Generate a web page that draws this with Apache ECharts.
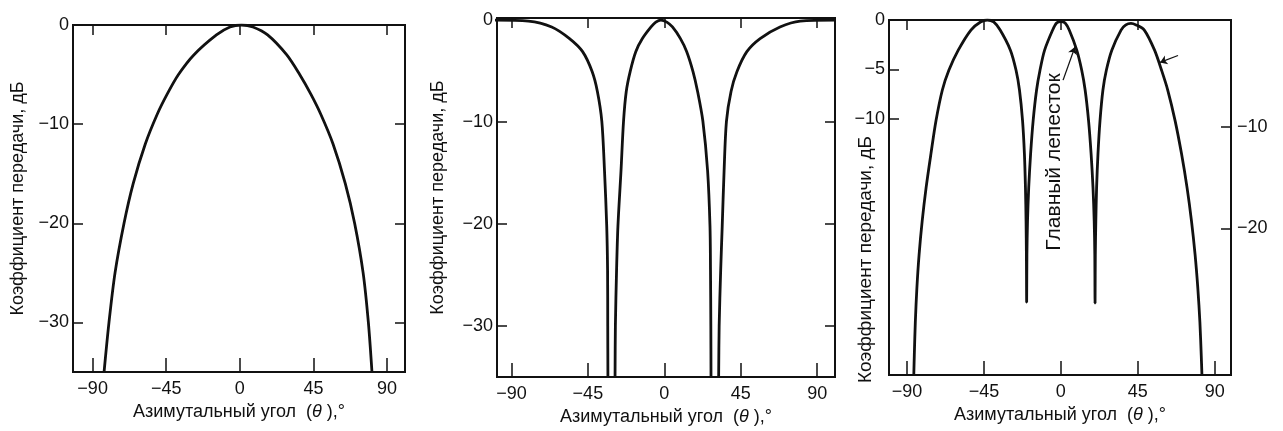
<!DOCTYPE html>
<html>
<head>
<meta charset="utf-8">
<script src="https://cdn.jsdelivr.net/npm/echarts@6/dist/echarts.min.js"></script>
<style>
  html, body { margin: 0; padding: 0; background: #fff; }
  #main { width: 1283px; height: 431px; }
</style>
</head>
<body>
<div id="main"></div>
<script>
// панель 1: одиночный лепесток
const p1Theta = [-83, -80, -76.3, -70.8, -65.2, -57.8, -50.5, -44.5, -37.5, -28, -14.3, -6, 1, 8, 17, 28.6, 36.6, 43.5, 49.5, 57, 64.5, 70.2, 75.4, 78.6, 80.8]
const p1Gain  = [-35, -30, -25, -20, -16, -12, -9, -7, -5, -3, -1, -0.2, 0, -0.2, -1, -3, -5, -7, -9, -12, -16, -20, -25, -30, -35]

// панель 2: три лепестка, нули уходят за нижний край
const p2LeftTheta = [-101, -80, -66.3, -55.8, -48.1, -42.5, -39.4, -36.8, -35.2, -33.9, -33.4, -33.3, -33.2]
const p2LeftGain  = [0, -0.1, -0.68, -1.82, -3.1, -5.05, -7, -9.9, -14.8, -20.2, -24.5, -30, -35]
const p2MidTheta = [-29, -28.8, -28.1, -27.3, -25.5, -24, -22.4, -20.1, -16.8, -12.9, -7.8, -5, -2, 1.5, 4.8, 9.5, 13.2, 16.9, 19.6, 22.7, 25.5, 26.9, 27.2, 27.4, 27.5]
const p2MidGain  = [-35, -30, -24.5, -20.2, -14.8, -9.9, -7, -5.05, -3.1, -1.82, -0.68, -0.2, 0, -0.2, -0.68, -1.82, -3.1, -5.05, -7, -9.9, -14.8, -20.2, -24.5, -30, -35]
const p2RightTheta = [32, 32.3, 33.2, 34.1, 35.2, 36.6, 39.3, 42.8, 48.6, 56.4, 68.1, 80, 101]
const p2RightGain  = [-35, -30, -24.5, -20.2, -14.8, -9.9, -7, -5.05, -3.1, -1.82, -0.68, -0.1, 0]

// панель 3: главный лепесток и два боковых
const p3Theta = [-86, -85.7, -85.1, -84.2, -82.9, -81.1, -78.8, -76, -73, -69.3, -65.5, -60, -52.6, -47, -43,
  -39.3, -35.5, -29.5, -26.2, -24.2, -22.4, -21.3, -20.7, -20.35, -20.15, -20,
  -19.85, -19.5, -18.8, -17.7, -16.2, -14.2, -12.2, -9.5, -4.8, -2.5, 0, 2.5, 4.9, 9.3, 12.2, 14.2, 16.2, 17.7, 18.8, 19.5, 19.85, 20,
  20.15, 20.45, 20.9, 21.7, 22.9, 24.6, 26.6, 29.8, 35.2, 38, 41, 44, 48.8, 54.8, 58.9, 62.5, 66.8, 70.6, 73.8, 76.4, 78.5, 80.1, 81.3, 82.1, 82.5]
const p3Gain = [-36, -34, -30.6, -27.2, -23.8, -20.4, -17, -13.6, -10.2, -7.1, -5.1, -3.06, -1.02, -0.2, 0,
  -0.2, -1.02, -3.06, -5.1, -7.1, -10.2, -13.6, -17, -20.4, -23.8, -28.6,
  -23.8, -20.4, -17, -13.6, -10.2, -7.1, -5.1, -3.06, -1.02, -0.3, -0.15, -0.3, -1.02, -3.06, -5.1, -7.1, -10.2, -13.6, -17, -20.4, -23.8, -28.7,
  -23.8, -20.4, -17, -13.6, -10.2, -7.1, -5.1, -3.06, -1.02, -0.5, -0.35, -0.5, -1.02, -3.06, -5.1, -7.1, -10.2, -13.6, -17, -20.4, -23.8, -27.2, -30.6, -34, -36]

const xTicks = [-90, -45, 0, 45, 90]
const xName = 'Азимутальный угол  ({t|θ} ),°'
const yName = 'Коэффициент передачи, дБ'
const noteText = 'Главный лепесток'

const zip = (a, b) => a.map((v, i) => [v, b[i]])
const minus = v => (v < 0 ? '−' + Math.abs(v) : String(v))
const font = 'Liberation Sans, Arial, sans-serif'
const ink = '#111'

const grids = [
  {left: 73, top: 25, width: 332, height: 347},
  {left: 497, top: 18, width: 338, height: 360},
  {left: 889, top: 20, width: 342, height: 355},
]

const bottomAxis = (gi, min, max, nameGap) => ({
  type: 'value', gridIndex: gi, position: 'bottom', min: min, max: max,
  axisLine: {show: false, onZero: false}, splitLine: {show: false},
  axisTick: {show: true, inside: true, length: 14, customValues: xTicks, lineStyle: {color: ink, width: 1.5}},
  axisLabel: {show: true, customValues: xTicks, formatter: minus, color: ink, fontSize: 18, fontFamily: font, margin: 8},
  name: xName, nameLocation: 'middle', nameGap: nameGap,
  nameTextStyle: {color: ink, fontSize: 18, fontFamily: font, rich: {t: {fontStyle: 'italic', fontSize: 18, fontFamily: font, color: ink}}}
})
const topAxis = (gi, min, max, ticks) => ({
  type: 'value', gridIndex: gi, position: 'top', min: min, max: max,
  axisLine: {show: false, onZero: false}, splitLine: {show: false}, axisLabel: {show: false},
  axisTick: {show: true, inside: true, length: 10, customValues: ticks, lineStyle: {color: ink, width: 1.5}}
})
const leftAxis = (gi, min, max, ticks, nameGap, nameStyle, moveOverlap) => ({
  type: 'value', gridIndex: gi, position: 'left', min: min, max: max,
  axisLine: {show: false, onZero: false}, splitLine: {show: false},
  axisTick: {show: true, inside: true, length: 10, customValues: ticks, lineStyle: {color: ink, width: 1.5}},
  axisLabel: {customValues: ticks, formatter: minus, color: ink, fontSize: 18, fontFamily: font, margin: 4},
  name: yName, nameLocation: 'middle', nameGap: nameGap, nameMoveOverlap: moveOverlap,
  nameTextStyle: Object.assign({color: ink, fontSize: 18, fontFamily: font}, nameStyle)
})
const rightAxis = (gi, min, max, ticks, showLabel) => ({
  type: 'value', gridIndex: gi, position: 'right', min: min, max: max,
  axisLine: {show: false, onZero: false}, splitLine: {show: false},
  axisTick: {show: true, inside: true, length: 10, customValues: ticks, lineStyle: {color: ink, width: 1.5}},
  axisLabel: {show: showLabel, customValues: ticks, formatter: minus, color: ink, fontSize: 18, fontFamily: font, margin: 6}
})

const option = {
  backgroundColor: '#fff',
  animation: false,
  grid: grids.map(g => Object.assign({show: true, borderColor: ink, borderWidth: 2, backgroundColor: 'transparent'}, g)),
  xAxis: [
    bottomAxis(0, -102, 101, 24),
    topAxis(0, -102, 101, xTicks),
    bottomAxis(1, -98.5, 100.5, 26),
    topAxis(1, -98.5, 100.5, xTicks),
    bottomAxis(2, -100.5, 99.5, 27),
    topAxis(2, -100.5, 99.5, [-90, -45, 0, 45]),
  ],
  yAxis: [
    leftAxis(0, -35, 0, [0, -10, -20, -30], 46, {}, true),
    rightAxis(0, -35, 0, [-10, -20, -30], false),
    leftAxis(1, -35, 0.2, [0, -10, -20, -30], 50, {}, true),
    rightAxis(1, -35, 0.2, [-10, -20, -30], false),
    // подпись оси в третьей панели стоит вплотную к меткам
    leftAxis(2, -36, 0, [0, -5, -10], 14, {fontSize: 19, padding: [0, 124, 0, 0]}, false),
    rightAxis(2, -34.5, 0.6, [-10, -20], true),
  ],
  series: [
    {type: 'line', xAxisIndex: 0, yAxisIndex: 0, data: zip(p1Theta, p1Gain)},
    {type: 'line', xAxisIndex: 2, yAxisIndex: 2, data: zip(p2LeftTheta, p2LeftGain)},
    {type: 'line', xAxisIndex: 2, yAxisIndex: 2, data: zip(p2MidTheta, p2MidGain)},
    {type: 'line', xAxisIndex: 2, yAxisIndex: 2, data: zip(p2RightTheta, p2RightGain)},
    {
      type: 'line', xAxisIndex: 4, yAxisIndex: 4, data: zip(p3Theta, p3Gain),
      markLine: {
        silent: true,
        symbol: ['none', 'arrow'],
        symbolSize: 7,
        label: {show: false},
        lineStyle: {color: ink, width: 1.3, type: 'solid', curveness: -0.2},
        data: [
          [{coord: [1.3, -6.1]}, {coord: [8.2, -2.75]}],
          [{coord: [68.5, -3.6]}, {coord: [58, -4.3]}],
        ]
      }
    },
  ].map(s => Object.assign({
    showSymbol: false, smooth: 0.3, clip: true, silent: true,
    lineStyle: {color: ink, width: 2.8}
  }, s))
}

const chart = echarts.init(document.getElementById('main'), null, {renderer: 'canvas'})
chart.setOption(option)

// подпись вдоль центрального лепестка
const pos = chart.convertToPixel({xAxisIndex: 4, yAxisIndex: 4}, [-4, -14.4])
chart.setOption({
  graphic: [{
    type: 'text', x: pos[0], y: pos[1], rotation: Math.PI / 2,
    style: {text: noteText, fill: ink, fontSize: 21, fontFamily: font, align: 'center', verticalAlign: 'middle'}
  }]
})
</script>
</body>
</html>
